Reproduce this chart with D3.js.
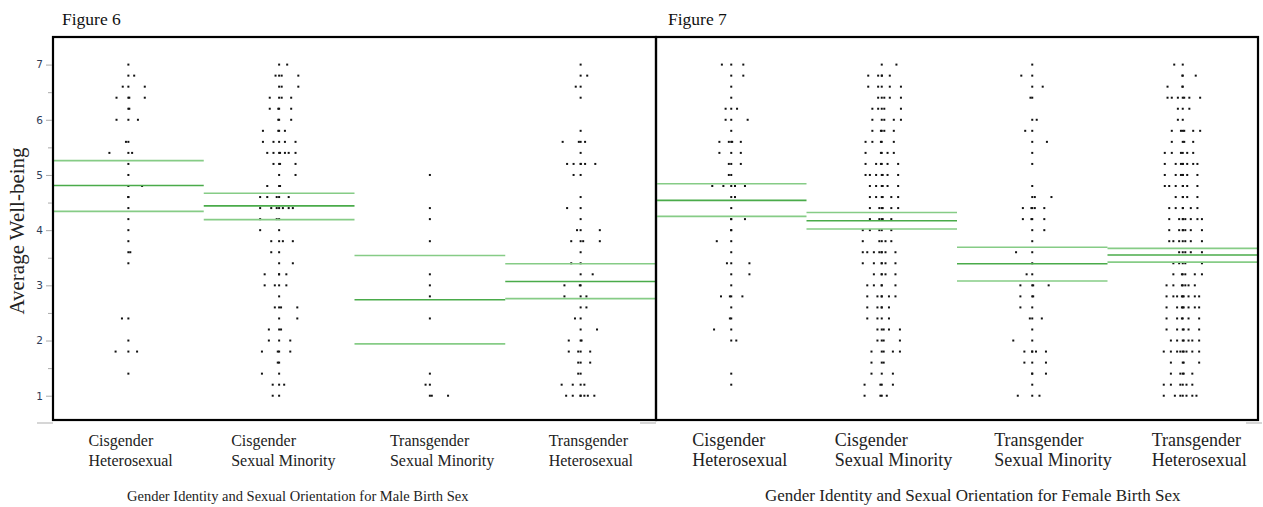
<!DOCTYPE html>
<html>
<head>
<meta charset="utf-8">
<script src="https://cdn.jsdelivr.net/npm/d3@7"></script>
<style>
  body { margin: 0; background: #fff; }
  svg { display: block; }
</style>
</head>
<body>
<div id="chart"></div>
<script>
// answer levels (mean of 5 items, 1-7 scale)
const levels = [1.0, 1.2, 1.4, 1.6, 1.8, 2.0, 2.2, 2.4, 2.6, 2.8, 3.0, 3.2, 3.4, 3.6, 3.8, 4.0,
                4.2, 4.4, 4.6, 4.8, 5.0, 5.2, 5.4, 5.6, 5.8, 6.0, 6.2, 6.4, 6.6, 6.8, 7.0];

const groups = ["Cisgender|Heterosexual", "Cisgender|Sexual Minority",
                "Transgender|Sexual Minority", "Transgender|Heterosexual"];

// number of respondents at each level (same order as levels)
const maleCisHet   = [0,0,1,0,3,1,0,2,0,0,0,0,1,2,1,1,1,1,2,2,1,1,3,2,0,3,2,4,3,2,1];
const maleCisSM    = [2,3,2,2,4,3,3,2,4,1,4,4,2,2,4,2,3,7,5,3,2,4,7,5,4,3,4,4,3,4,2];
const maleTransSM  = [3,2,1,0,0,0,0,1,0,1,1,1,0,0,1,0,1,1,0,0,1,0,0,0,0,0,0,0,0,0,0];
const maleTransHet = [7,4,2,3,4,3,2,2,2,3,3,2,2,1,4,3,1,2,1,0,2,6,1,4,1,0,0,1,2,2,1];

const femaleCisHet   = [0,1,1,0,0,2,2,2,1,4,1,2,3,1,2,2,3,1,2,5,2,3,3,5,1,3,3,1,1,2,3];
const femaleCisSM    = [4,4,3,3,5,4,5,4,5,6,5,5,6,8,5,5,5,6,6,6,7,6,5,5,5,5,5,5,5,5,2];
const femaleTransSM  = [3,1,3,3,5,2,1,3,2,3,4,2,1,2,1,2,4,5,3,1,0,1,1,2,2,2,0,2,2,2,1];
const femaleTransHet = [7,6,5,4,9,7,6,6,8,9,7,6,5,5,7,7,8,6,5,7,7,8,6,4,6,2,3,7,3,3,2];

// group means with confidence bounds
const maleUpper = [5.26, 4.67, 3.54, 3.39];
const maleMean  = [4.81, 4.44, 2.74, 3.07];
const maleLower = [4.34, 4.19, 1.94, 2.76];

const femaleUpper = [4.84, 4.32, 3.69, 3.67];
const femaleMean  = [4.54, 4.17, 3.39, 3.55];
const femaleLower = [4.25, 4.02, 3.08, 3.42];

const yTicks = [1, 1.5, 2, 2.5, 3, 3.5, 4, 4.5, 5, 5.5, 6, 6.5, 7];

const width = 1263, height = 507;
const plotTop = 37, plotBottom = 420;

const svg = d3.select("#chart").append("svg")
    .attr("width", width)
    .attr("height", height);

const y = d3.scaleLinear().domain([0.56, 7.5]).range([plotBottom, plotTop]);

const serif = "'Liberation Serif', 'DejaVu Serif', serif";

// the two figures were pasted at slightly different sizes, so fonts differ a little
const panels = [
    { title: "Figure 6", x0: 53, x1: 656, counts: [maleCisHet, maleCisSM, maleTransSM, maleTransHet],
      upper: maleUpper, mean: maleMean, lower: maleLower, labelSize: 16, labelShift: [-40, -48, -40, -32],
      xlabel: "Gender Identity and Sexual Orientation  for Male Birth Sex", xlabelX: 127, xlabelSize: 14.5 },
    { title: "Figure 7", x0: 656, x1: 1258, counts: [femaleCisHet, femaleCisSM, femaleTransSM, femaleTransHet],
      upper: femaleUpper, mean: femaleMean, lower: femaleLower, labelSize: 18, labelShift: [-39, -47, -38, -31],
      xlabel: "Gender Identity and Sexual Orientation  for Female Birth Sex", xlabelX: 765, xlabelSize: 17 }
];

// spread points of a level sideways (deterministic, golden ratio)
function jitter(i, j) {
    if (j === 0) return 0;
    const t = ((i * 0.3819 + j * 0.618034) % 1) * 2 - 1;
    return Math.sign(t) * Math.pow(Math.abs(t), 1.3) * 20;
}

panels.forEach((p, pi) => {
    const x = d3.scaleBand().domain(groups).range([p.x0, p.x1]);

    const g = svg.append("g");

    // points
    const pts = [];
    p.counts.forEach((arr, gi) => {
        arr.forEach((n, li) => {
            for (let j = 0; j < n; j++) {
                pts.push({ group: groups[gi], v: levels[li], off: jitter(li + gi * 7 + pi * 3, j) });
            }
        });
    });
    g.append("g")
        .selectAll("rect")
        .data(pts)
        .join("rect")
        .attr("x", d => x(d.group) + x.bandwidth() / 2 + d.off - 1)
        .attr("y", d => y(d.v) - 1)
        .attr("width", 2)
        .attr("height", 2)
        .attr("fill", "#111");

    // mean and bounds
    const lines = [];
    groups.forEach((c, gi) => {
        lines.push({ c, v: p.upper[gi], col: "#86cc86" });
        lines.push({ c, v: p.mean[gi], col: "#4aab4a" });
        lines.push({ c, v: p.lower[gi], col: "#86cc86" });
    });
    g.append("g")
        .selectAll("line")
        .data(lines)
        .join("line")
        .attr("x1", d => x(d.c))
        .attr("x2", d => x(d.c) + x.bandwidth())
        .attr("y1", d => y(d.v))
        .attr("y2", d => y(d.v))
        .attr("stroke", d => d.col)
        .attr("stroke-width", 1.6);

    // frame
    g.append("rect")
        .attr("x", p.x0)
        .attr("y", plotTop)
        .attr("width", p.x1 - p.x0)
        .attr("height", plotBottom - plotTop)
        .attr("fill", "none")
        .attr("stroke", "#000")
        .attr("stroke-width", 2.2);

    // little gray stubs under the frame corners
    g.append("line")
        .attr("x1", p.x0 - 16).attr("x2", p.x0)
        .attr("y1", plotBottom + 3).attr("y2", plotBottom + 3)
        .attr("stroke", "#c8c8c8").attr("stroke-width", 1.5);

    // category labels
    groups.forEach((c, gi) => {
        const lx = x(c) + x.bandwidth() / 2 + p.labelShift[gi];
        const t = g.append("text")
            .attr("x", lx)
            .attr("y", 446)
            .attr("font-family", serif)
            .attr("font-size", p.labelSize)
            .attr("fill", "#222");
        c.split("|").forEach((s, k) => {
            t.append("tspan").attr("x", lx).attr("dy", k === 0 ? 0 : 20).text(s);
        });
    });

    svg.append("text")
        .attr("x", p.xlabelX)
        .attr("y", 501)
        .attr("font-family", serif)
        .attr("font-size", p.xlabelSize)
        .attr("fill", "#222")
        .text(p.xlabel);

    svg.append("text")
        .attr("x", p.x0 + (pi === 0 ? 9 : 12))
        .attr("y", 25)
        .attr("font-family", serif)
        .attr("font-size", 17.5)
        .attr("fill", "#111")
        .text(p.title);
});

// stub at right end
svg.append("line")
    .attr("x1", 1246).attr("x2", 1262)
    .attr("y1", plotBottom + 3).attr("y2", plotBottom + 3)
    .attr("stroke", "#c8c8c8").attr("stroke-width", 1.5);

// y axis (left panel only)
const yAxis = d3.axisLeft(y)
    .tickValues(yTicks)
    .tickSize(5)
    .tickFormat(d => Number.isInteger(d) ? d : "");
const ax = svg.append("g")
    .attr("transform", "translate(52,0)")
    .call(yAxis);
ax.select(".domain").remove();
ax.selectAll(".tick line")
    .attr("stroke", "#aaa")
    .attr("x2", d => Number.isInteger(d) ? -6 : -4);
ax.selectAll(".tick text")
    .attr("font-family", "'DejaVu Sans', sans-serif")
    .attr("font-size", 10.5)
    .attr("fill", "#2e3c58")
    .attr("x", -9);

svg.append("text")
    .attr("transform", "translate(24,231) rotate(-90)")
    .attr("text-anchor", "middle")
    .attr("font-family", serif)
    .attr("font-size", 21)
    .attr("fill", "#222")
    .text("Average Well-being");
</script>
</body>
</html>
